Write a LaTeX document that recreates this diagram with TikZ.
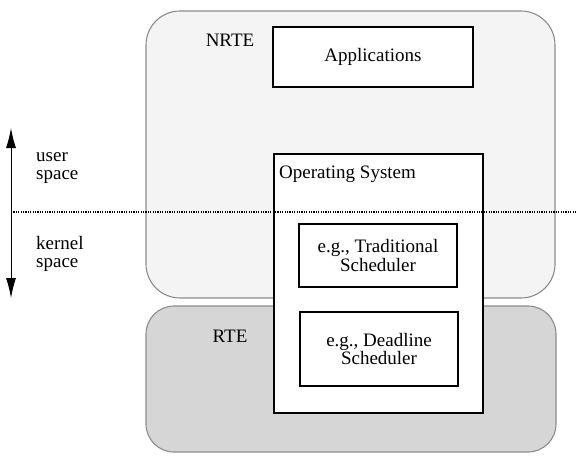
\documentclass[tikz,border=0pt]{standalone}
\usepackage{fontspec}
\setmainfont{Liberation Serif}
\usetikzlibrary{arrows.meta}
\definecolor{nrtefill}{HTML}{F4F4F4}
\definecolor{rtefill}{HTML}{D6D6D6}
\definecolor{envline}{HTML}{8C8C8C}
\tikzset{
  envbox/.style={draw=envline, line width=1.1pt, inner sep=0pt},
  blackbox/.style={draw=black, line width=1.4pt, fill=white, inner sep=0pt, align=center, font=\mytext},
  lbl/.style={inner sep=0pt, align=left, font=\mytext},
}
\newcommand{\mytext}{\fontsize{19}{18.5}\selectfont}
\begin{document}
\begin{tikzpicture}[x=1pt, y=-1pt]
\useasboundingbox (0,0) rectangle (577,459);
\node[envbox, fill=nrtefill, minimum width=409pt, minimum height=287pt, rounded corners=34pt] (nrte) at (350.5,154.5) {};
\node[envbox, fill=rtefill, minimum width=410pt, minimum height=146pt, rounded corners=28pt] (rte) at (351,379) {};
\node[lbl] (nrtelbl) at (230,40) {NRTE};
\node[lbl] (rtelbl) at (230,336) {RTE};
\node[blackbox, minimum width=200pt, minimum height=60pt] (apps) at (373,57) {Applications};
\node[blackbox, minimum width=209pt, minimum height=259pt] (os) at (378.5,283.5) {};
\node[lbl, anchor=west] (oslbl) at (279,174) {Operating System};
\node[blackbox, minimum width=158pt, minimum height=63pt] (trad) at (378,255.5) {e.g., Traditional\\Scheduler};
\node[blackbox, minimum width=158pt, minimum height=74pt] (dead) at (379,349) {e.g., Deadline\\Scheduler};
\coordinate (dl) at (11,212);
\coordinate (dr) at (577,212);
\draw[line width=1.5pt, dash pattern=on 1.2pt off 1.2pt] (dl) -- (dr);
\coordinate (atop) at (11,128);
\coordinate (abot) at (11,298);
\draw[line width=1pt, {Latex[length=20pt,width=10pt]}-{Latex[length=20pt,width=10pt]}] (atop) -- (abot);
\node[lbl, anchor=west] (user) at (36,168) {user\\space};
\node[lbl, anchor=west] (kernel) at (36,254) {kernel\\space};
\end{tikzpicture}
\end{document}
